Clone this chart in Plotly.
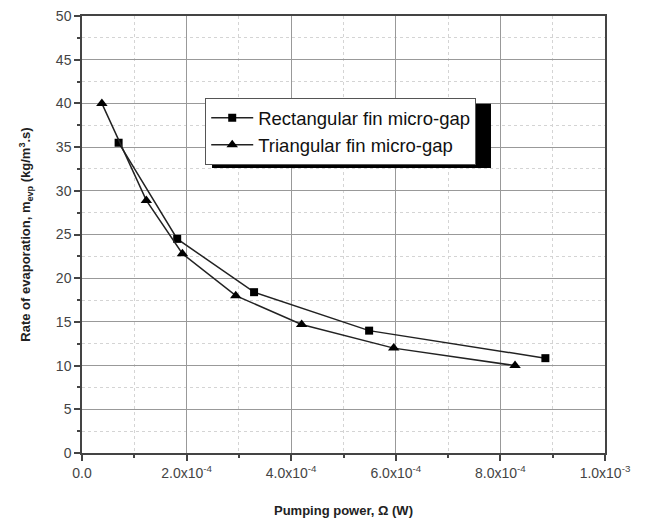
import plotly.graph_objects as go

# Data
rect_x = [7.0e-5, 1.82e-4, 3.29e-4, 5.49e-4, 8.86e-4]
rect_y = [35.5, 24.5, 18.4, 14.0, 10.85]
tri_x = [3.8e-5, 1.23e-4, 1.92e-4, 2.94e-4, 4.2e-4, 5.96e-4, 8.28e-4]
tri_y = [40.0, 28.9, 22.8, 18.0, 14.7, 12.0, 10.0]

x_tickvals = [0, 2e-4, 4e-4, 6e-4, 8e-4, 1e-3]
x_ticktext = ["0.0", "2.0x10<sup>-4</sup>", "4.0x10<sup>-4</sup>", "6.0x10<sup>-4</sup>",
              "8.0x10<sup>-4</sup>", "1.0x10<sup>-3</sup>"]
y_tickvals = [0, 5, 10, 15, 20, 25, 30, 35, 40, 45, 50]

fig = go.Figure()
fig.add_trace(go.Scatter(x=rect_x, y=rect_y, mode="lines+markers",
                         name="Rectangular fin micro-gap",
                         line=dict(color="#222222", width=1.5),
                         marker=dict(symbol="square", size=8, color="black")))
fig.add_trace(go.Scatter(x=tri_x, y=tri_y, mode="lines+markers",
                         name="Triangular fin micro-gap",
                         line=dict(color="#222222", width=1.5),
                         marker=dict(symbol="triangle-up", size=10, color="black")))

axis_common = dict(showline=True, linecolor="#444444", linewidth=1.5, mirror=True,
                   ticks="outside", ticklen=6, tickcolor="#444444", tickwidth=1.5,
                   showgrid=True, gridcolor="#999999", gridwidth=1, griddash="solid",
                   zeroline=False, automargin=False,
                   tickfont=dict(family="Liberation Sans, Arial", size=14, color="#444444"))

fig.update_xaxes(range=[0, 1e-3], tickvals=x_tickvals, ticktext=x_ticktext,
                 minor=dict(dtick=1e-4, tick0=0, ticks="outside", ticklen=3, tickcolor="#444444",
                            showgrid=True, gridcolor="#d4d4d4", griddash="dot", gridwidth=1),
                 title=dict(text="<b>Pumping power, Ω (W)</b>", standoff=26,
                            font=dict(family="Liberation Sans, Arial", size=13, color="#222222")),
                 **axis_common)
fig.update_yaxes(range=[0, 50], tickvals=y_tickvals,
                 minor=dict(dtick=2.5, tick0=0, ticks="outside", ticklen=3, tickcolor="#444444",
                            showgrid=True, gridcolor="#d4d4d4", griddash="dot", gridwidth=1),
                 title=dict(text="<b>Rate of evaporation, m<sub>evp</sub> (kg/m<sup>3</sup>.s)</b>",
                            standoff=22,
                            font=dict(family="Liberation Sans, Arial", size=13, color="#222222")),
                 **axis_common)

# legend shadow (offset to the lower right of the legend box)
fig.add_shape(type="rect", xref="paper", yref="paper",
              x0=0.2486, x1=0.782, y0=0.652, y1=0.799,
              fillcolor="black", line=dict(width=0), layer="above")

fig.update_layout(
    width=647, height=527,
    margin=dict(l=82, r=42, t=16, b=74),
    paper_bgcolor="white", plot_bgcolor="white",
    showlegend=True,
    legend=dict(x=0.2356, y=0.812, xanchor="left", yanchor="top",
                bgcolor="white", bordercolor="#555555", borderwidth=1,
                font=dict(family="Liberation Sans, Arial", size=18.5, color="#111111"),
                tracegroupgap=0, itemwidth=42),
)

fig.write_html("out.html", config={"displayModeBar": False},
               post_script="document.body.style.margin='0';")
